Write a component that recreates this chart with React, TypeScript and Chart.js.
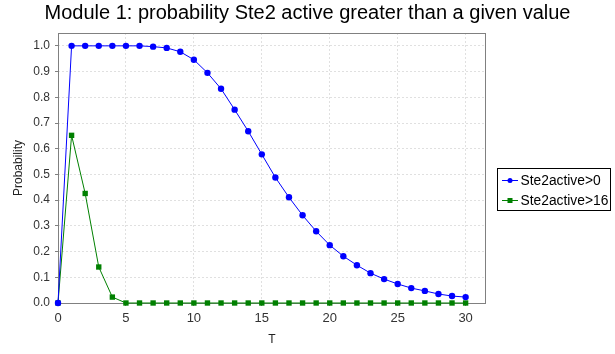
import React, { useEffect, useRef } from "react";
import { Chart, registerables } from "chart.js";

Chart.register(...registerables);

const TITLE = "Module 1: probability Ste2 active greater than a given value";
const X_TITLE = "T";
const Y_TITLE = "Probability";
const T_VALUES = Array.from({ length: 31 }, (_, i) => i);
const SERIES_NAMES = ["Ste2active>0", "Ste2active>16"];
const ACTIVE_GT_0 = [
  0, 1.0, 1.0, 1.0, 1.0, 1.0, 1.0, 0.997, 0.992, 0.977, 0.946, 0.895, 0.833, 0.752, 0.668,
  0.578, 0.488, 0.411, 0.341, 0.279, 0.225, 0.182, 0.147, 0.116, 0.093, 0.074, 0.058, 0.047,
  0.035, 0.027, 0.023,
];
const ACTIVE_GT_16 = [
  0, 0.652, 0.426, 0.14, 0.023, 0, 0, 0, 0, 0, 0, 0, 0, 0, 0, 0, 0, 0, 0, 0, 0, 0, 0, 0, 0,
  0, 0, 0, 0, 0, 0,
];
const COLORS = ["#0000ff", "#008000"];
const POINT_STYLES = ["circle", "rect"];

const FONT = "'Liberation Sans', Arial, sans-serif";

const decorPlugin = {
  id: "decor",
  beforeDatasetsDraw(chart: any) {
    const { ctx, chartArea } = chart;
    const { left, right, top, bottom } = chartArea;
    ctx.save();
    ctx.strokeStyle = "#808080";
    ctx.lineWidth = 1;
    ctx.strokeRect(Math.round(left) + 0.5, Math.round(top) + 0.5, Math.round(right - left) - 1, Math.round(bottom - top));
    ctx.restore();
  },
  afterDraw(chart: any) {
    const { ctx, chartArea } = chart;
    ctx.save();
    // Title
    ctx.fillStyle = "#000";
    ctx.font = `20px ${FONT}`;
    ctx.textAlign = "center";
    ctx.textBaseline = "alphabetic";
    ctx.fillText(TITLE, 307.5, 19);
    // X title
    ctx.fillStyle = "#222";
    ctx.font = `12px ${FONT}`;
    ctx.textBaseline = "middle";
    ctx.fillText(X_TITLE, (chartArea.left + chartArea.right) / 2, 340);
    // Y title
    ctx.save();
    ctx.translate(19, (chartArea.top + chartArea.bottom) / 2);
    ctx.rotate(-Math.PI / 2);
    ctx.fillText(Y_TITLE, 0, 0);
    ctx.restore();
    // Legend
    const bx = 497.5, by = 168.5, bw = 113, bh = 42;
    ctx.strokeStyle = "#000";
    ctx.lineWidth = 1;
    ctx.strokeRect(bx, by, bw, bh);
    ctx.font = `13.8px ${FONT}`;
    ctx.textAlign = "left";
    ctx.textBaseline = "middle";
    SERIES_NAMES.forEach((name, i) => {
      const y = 180 + i * 20;
      ctx.strokeStyle = COLORS[i];
      ctx.fillStyle = COLORS[i];
      ctx.beginPath();
      ctx.moveTo(502, y + 0.5);
      ctx.lineTo(518, y + 0.5);
      ctx.stroke();
      if (POINT_STYLES[i] === "circle") {
        ctx.beginPath();
        ctx.arc(510, y + 0.5, 2.5, 0, Math.PI * 2);
        ctx.fill();
      } else {
        ctx.fillRect(507.5, y - 2, 5, 5);
      }
      ctx.fillStyle = "#000";
      ctx.fillText(name, 520.5, y + 1);
    });
    ctx.restore();
  },
};

export default function App() {
  const ref = useRef<HTMLCanvasElement | null>(null);
  useEffect(() => {
    document.body.style.margin = "0";
    const canvas = ref.current!;
    const chart = new Chart(canvas, {
      type: "line",
      data: {
        datasets: [ACTIVE_GT_0, ACTIVE_GT_16].map((vals, i) => ({
          label: SERIES_NAMES[i],
          data: T_VALUES.map((t, j) => ({ x: t, y: vals[j] })),
          borderColor: COLORS[i],
          backgroundColor: COLORS[i],
          borderWidth: 1,
          pointStyle: POINT_STYLES[i] as any,
          pointRadius: i === 0 ? 3.2 : 3.8,
          pointBorderWidth: 0,
          tension: 0,
          fill: false,
          clip: false as any,
        })),
      },
      options: {
        animation: false,
        responsive: false,
        layout: { padding: { left: 0, right: 129, top: 33, bottom: 0 } },
        plugins: {
          legend: { display: false },
          title: { display: false },
          tooltip: { enabled: false },
        },
        scales: {
          x: {
            type: "linear",
            min: 0,
            max: 31.5,
            afterFit: (s: any) => {
              s.height = 51;
            },
            ticks: {
              stepSize: 5,
              includeBounds: false,
              padding: 5,
              color: "#333",
              font: { family: FONT, size: 13 },
              maxRotation: 0,
            },
            grid: {
              color: "#e0e0e0",
              tickLength: 3,
              tickColor: "#808080",
              tickBorderDash: [],
            } as any,
            border: { display: false, dash: [2, 2] },
          },
          y: {
            type: "linear",
            min: 0,
            max: 1.05,
            afterFit: (s: any) => {
              s.width = 58;
            },
            ticks: {
              stepSize: 0.1,
              includeBounds: false,
              padding: 5,
              color: "#333",
              font: { family: FONT, size: 12 },
              callback: (v: any) => Number(v).toFixed(1),
            },
            grid: {
              color: "#e0e0e0",
              tickLength: 3,
              tickColor: "#808080",
              tickBorderDash: [],
            } as any,
            border: { display: false, dash: [2, 2] },
          },
        },
      } as any,
      plugins: [decorPlugin],
    });
    return () => chart.destroy();
  }, []);
  return (
    <div style={{ position: "absolute", left: 0, top: 0, width: 615, height: 354, background: "#fff" }}>
      <canvas ref={ref} width={615} height={354} style={{ width: 615, height: 354 }} />
    </div>
  );
}
